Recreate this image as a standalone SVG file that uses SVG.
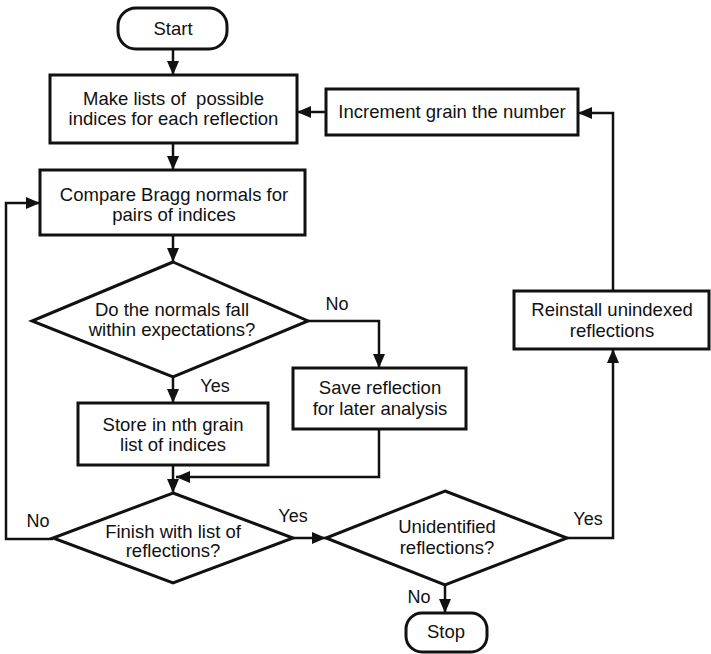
<svg xmlns="http://www.w3.org/2000/svg" width="711" height="654" viewBox="0 0 711 654">
<defs>
<style>
.box{fill:#fff;stroke:#111;stroke-width:3}
.ln{fill:none;stroke:#111;stroke-width:2.5}
.t{font-family:"Liberation Sans",Arial,sans-serif;font-size:18.5px;fill:#111;text-anchor:middle}
.lb{font-family:"Liberation Sans",Arial,sans-serif;font-size:18px;fill:#111;text-anchor:middle}
</style>
<marker id="ah" markerUnits="userSpaceOnUse" markerWidth="14" markerHeight="12" refX="14" refY="6" orient="auto">
<path d="M0,0 L14,6 L0,12 z" fill="#111"/>
</marker>
</defs>
<rect width="711" height="654" fill="#fff"/>
<g id="connectors">
<line class="ln" x1="173" y1="49" x2="173" y2="75" marker-end="url(#ah)"/>
<line class="ln" x1="173" y1="143" x2="173" y2="170" marker-end="url(#ah)"/>
<line class="ln" x1="173" y1="235" x2="173" y2="262" marker-end="url(#ah)"/>
<line class="ln" x1="173" y1="377" x2="173" y2="403" marker-end="url(#ah)"/>
<line class="ln" x1="173" y1="465" x2="173" y2="493" marker-end="url(#ah)"/>
<polyline class="ln" points="308,321 379,321 379,368" marker-end="url(#ah)"/>
<polyline class="ln" points="379,429 379,477 176,477" marker-end="url(#ah)"/>
<polyline class="ln" points="53,539 6,539 6,203 40,203" marker-end="url(#ah)"/>
<line class="ln" x1="293" y1="538" x2="326" y2="538" marker-end="url(#ah)"/>
<line class="ln" x1="445" y1="585" x2="445" y2="613" marker-end="url(#ah)"/>
<polyline class="ln" points="567,538 613,538 613,349" marker-end="url(#ah)"/>
<polyline class="ln" points="613,291 613,113 578,113" marker-end="url(#ah)"/>
<line class="ln" x1="326" y1="112" x2="297" y2="112" marker-end="url(#ah)"/>
<text class="lb" x="337" y="310">No</text>
<text class="lb" x="215" y="392">Yes</text>
<text class="lb" x="38" y="527">No</text>
<text class="lb" x="293" y="522">Yes</text>
<text class="lb" x="588" y="525">Yes</text>
<text class="lb" x="419" y="603">No</text>
</g>
<g id="start">
<rect class="box" x="118" y="8" width="109" height="41" rx="18"/>
<text class="t" x="173" y="35">Start</text>
</g>
<g id="make-lists">
<rect class="box" x="50" y="75" width="247" height="68"/>
<text class="t" x="173.5" y="104.5" style="white-space:pre">Make lists of  possible</text>
<text class="t" x="173.5" y="125">indices for each reflection</text>
</g>
<g id="increment">
<rect class="box" x="326" y="89" width="252" height="46"/>
<text class="t" x="452" y="118">Increment grain the number</text>
</g>
<g id="compare">
<rect class="box" x="40" y="170" width="265" height="65"/>
<text class="t" x="174" y="201">Compare Bragg normals for</text>
<text class="t" x="174" y="221">pairs of indices</text>
</g>
<g id="normals-decision">
<polygon class="box" points="173,262 308,321 173,377 32,321"/>
<text class="t" x="172" y="316">Do the normals fall</text>
<text class="t" x="172" y="336">within expectations?</text>
</g>
<g id="save">
<rect class="box" x="293" y="368" width="173" height="61"/>
<text class="t" x="380" y="394">Save reflection</text>
<text class="t" x="380" y="415">for later analysis</text>
</g>
<g id="store">
<rect class="box" x="78" y="403" width="190" height="62"/>
<text class="t" x="173" y="431">Store in nth grain</text>
<text class="t" x="173" y="451">list of indices</text>
</g>
<g id="finish-decision">
<polygon class="box" points="173,493 293,538 173,583 53,538"/>
<text class="t" x="173" y="538">Finish with list of</text>
<text class="t" x="173" y="557">reflections?</text>
</g>
<g id="unidentified-decision">
<polygon class="box" points="445,491 567,538 445,585 326,538"/>
<text class="t" x="447" y="533">Unidentified</text>
<text class="t" x="447" y="554">reflections?</text>
</g>
<g id="reinstall">
<rect class="box" x="514" y="291" width="195" height="58"/>
<text class="t" x="612" y="316">Reinstall unindexed</text>
<text class="t" x="612" y="337">reflections</text>
</g>
<g id="stop">
<rect class="box" x="406" y="613" width="81" height="39" rx="16"/>
<text class="t" x="446" y="638">Stop</text>
</g>
</svg>
